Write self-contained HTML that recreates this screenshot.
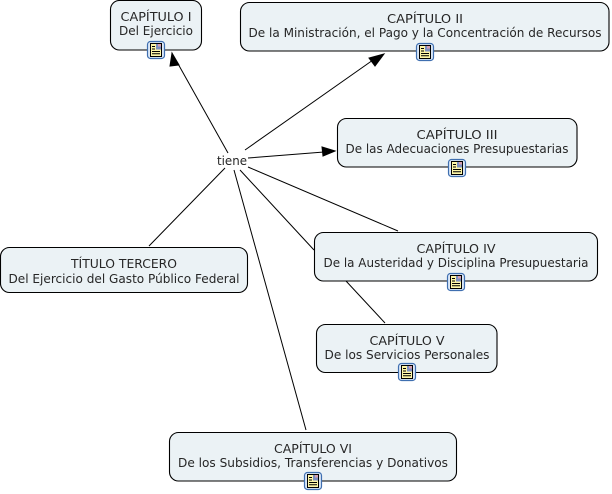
<!DOCTYPE html>
<html><head><meta charset="utf-8"><style>
html,body{margin:0;padding:0;background:#fff}
svg{display:block}
text{font-family:"DejaVu Sans","Liberation Sans",sans-serif;font-size:12px;fill:#262626;text-anchor:middle}
.b{fill:#ebf2f5;stroke:#000;stroke-width:1.1}
.l{stroke:#000;stroke-width:1;fill:none}
</style></head><body>
<svg width="612" height="494" viewBox="0 0 612 494" xmlns="http://www.w3.org/2000/svg">
<defs>
<g id="ic">
<rect x="-8.5" y="-8.5" width="17" height="17" rx="3" fill="#dbe8f7" stroke="#3f6fb0" stroke-width="1.2"/>
<rect x="-5.5" y="-6.500" width="11" height="13" fill="#fdf6a8" stroke="#000" stroke-width="1"/>
<rect x="0" y="-6" width="5" height="5.500" fill="#7d8fc0"/>
<rect x="2" y="-6" width="3" height="2.500" fill="#d8a0b0"/>
<path d="M-4-3.500h3M-4-1h3M-4 1.500h8M-4 3.800h8" stroke="#000" stroke-width="1"/>
</g>
</defs>
<rect width="612" height="494" fill="#fff"/>
<path class="l" d="M228 153L177 62M245 150L373 60M248 158L324 152M248 167L398 231M240 170L314 250M346 281L385 323M225 168L149 246M234 170L306 430"/>
<path d="M172 53L179 65L170 66Z" fill="#000" stroke="#000"/>
<path d="M384 54L375 66L369 58Z" fill="#000" stroke="#000"/>
<path d="M335 151L323 156L322 147Z" fill="#000" stroke="#000"/>
<rect class="b" x="110.500" y="0.500" width="91" height="49.500" rx="9"/>
<rect class="b" x="240.500" y="2.500" width="368.500" height="48.500" rx="9"/>
<rect class="b" x="337.500" y="118.500" width="239.500" height="48.500" rx="9"/>
<rect class="b" x="314.500" y="232.500" width="283" height="48.500" rx="9"/>
<rect class="b" x="316.500" y="324.500" width="180.500" height="48" rx="9"/>
<rect class="b" x="169.500" y="432.500" width="287" height="48.500" rx="9"/>
<rect class="b" x="0.500" y="247.500" width="247" height="45" rx="9"/>
<text x="156" y="21" textLength="71" lengthAdjust="spacingAndGlyphs">CAPÍTULO I</text>
<text x="156" y="35" textLength="74" lengthAdjust="spacingAndGlyphs">Del Ejercicio</text>
<text x="425" y="23" textLength="76" lengthAdjust="spacingAndGlyphs">CAPÍTULO II</text>
<text x="425" y="37" textLength="353" lengthAdjust="spacingAndGlyphs">De la Ministración, el Pago y la Concentración de Recursos</text>
<text x="457" y="139" textLength="81" lengthAdjust="spacingAndGlyphs">CAPÍTULO III</text>
<text x="457" y="153" textLength="223" lengthAdjust="spacingAndGlyphs">De las Adecuaciones Presupuestarias</text>
<text x="456" y="253" textLength="79" lengthAdjust="spacingAndGlyphs">CAPÍTULO IV</text>
<text x="456" y="267" textLength="265" lengthAdjust="spacingAndGlyphs">De la Austeridad y Disciplina Presupuestaria</text>
<text x="407" y="345" textLength="75" lengthAdjust="spacingAndGlyphs">CAPÍTULO V</text>
<text x="407" y="359" textLength="165" lengthAdjust="spacingAndGlyphs">De los Servicios Personales</text>
<text x="313" y="453" textLength="78" lengthAdjust="spacingAndGlyphs">CAPÍTULO VI</text>
<text x="313" y="467" textLength="270" lengthAdjust="spacingAndGlyphs">De los Subsidios, Transferencias y Donativos</text>
<text x="124" y="268" textLength="106" lengthAdjust="spacingAndGlyphs">TÍTULO TERCERO</text>
<text x="124" y="283" textLength="231" lengthAdjust="spacingAndGlyphs">Del Ejercicio del Gasto Público Federal</text>
<text x="232" y="165" textLength="30" lengthAdjust="spacingAndGlyphs">tiene</text>
<use href="#ic" x="156" y="50"/>
<use href="#ic" x="425" y="52"/>
<use href="#ic" x="457" y="168"/>
<use href="#ic" x="456" y="282"/>
<use href="#ic" x="407" y="372"/>
<use href="#ic" x="313" y="481"/>
</svg>
</body></html>
